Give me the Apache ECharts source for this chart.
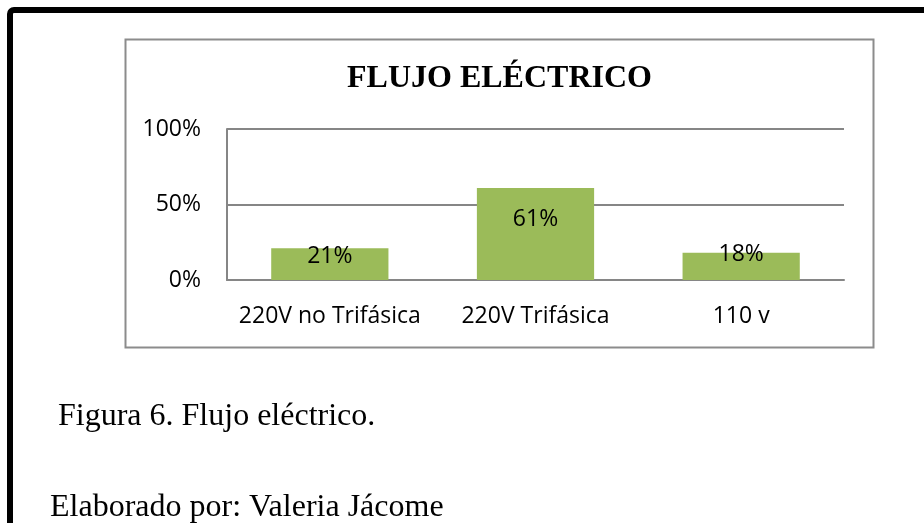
<!DOCTYPE html>
<html>
<head>
<meta charset="utf-8">
<style>
  html, body { margin: 0; padding: 0; background: #fff; }
  #chart { width: 924px; height: 523px; }
</style>
<script src="https://cdn.jsdelivr.net/npm/echarts@6/dist/echarts.min.js"></script>
</head>
<body>
<div id="chart"></div>
<script>
// datos de la figura
const categories = ['220V no Trifásica', '220V Trifásica', '110 v'];
const values = [21, 61, 18];
const yTicks = [0, 50, 100];

// desplazamiento vertical de cada etiqueta dentro de la barra (solo estilo)
const labelDy = [8, 32, 2];

const chart = echarts.init(document.getElementById('chart'));

const option = {
  backgroundColor: '#ffffff',
  animation: false,
  graphic: [
    {
      type: 'rect',
      shape: { x: 10, y: 10, width: 1000, height: 1000, r: 4 },
      style: { fill: 'none', stroke: '#000', lineWidth: 6 }
    },
    {
      type: 'rect',
      shape: { x: 125.5, y: 39.5, width: 748, height: 308 },
      style: { fill: 'none', stroke: '#8c8c8c', lineWidth: 2 }
    },
    {
      type: 'text',
      left: 58,
      top: 401,
      style: {
        text: 'Figura 6. Flujo eléctrico.',
        font: '32px "Liberation Serif"',
        fill: '#000'
      }
    },
    {
      type: 'text',
      left: 50,
      top: 492,
      style: {
        text: 'Elaborado por: Valeria Jácome',
        font: '32px "Liberation Serif"',
        fill: '#000'
      }
    }
  ],
  title: {
    text: 'FLUJO ELÉCTRICO',
    left: 342,
    top: 58,
    textStyle: {
      fontFamily: 'Liberation Serif',
      fontWeight: 'bold',
      fontSize: 32,
      color: '#000'
    }
  },
  grid: {
    left: 227,
    right: 80,
    top: 129,
    bottom: 243,
    containLabel: false
  },
  xAxis: {
    type: 'category',
    data: categories,
    axisLine: { lineStyle: { color: '#868686', width: 2 } },
    axisTick: { show: false },
    axisLabel: {
      interval: 0,
      color: '#000',
      fontFamily: 'Open Sans',
      fontSize: 23,
      margin: 25
    }
  },
  yAxis: {
    type: 'value',
    min: yTicks[0],
    max: yTicks[yTicks.length - 1],
    interval: yTicks[1] - yTicks[0],
    axisLine: { show: true, lineStyle: { color: '#868686', width: 2 } },
    axisTick: { show: false },
    splitLine: { lineStyle: { color: '#868686', width: 2 } },
    axisLabel: {
      color: '#000',
      fontFamily: 'Open Sans',
      fontSize: 23,
      margin: 26,
      formatter: '{value}%'
    }
  },
  series: [
    {
      type: 'bar',
      barCategoryGap: '43%',
      itemStyle: { color: '#9bbb59' },
      data: values.map((v, i) => ({
        value: v,
        label: { position: ['50%', labelDy[i]] }
      })),
      label: {
        show: true,
        align: 'center',
        verticalAlign: 'middle',
        color: '#000',
        fontFamily: 'Open Sans',
        fontSize: 23,
        formatter: '{c}%'
      }
    }
  ]
};

chart.setOption(option);
window.addEventListener('resize', () => {
  chart.resize();
});
</script>
</body>
</html>
